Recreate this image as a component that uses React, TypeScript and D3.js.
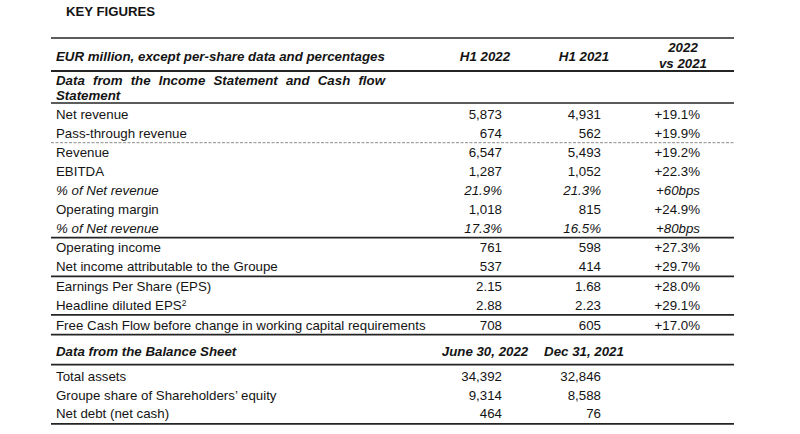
import React, { useRef, useEffect } from "react";
import * as d3 from "d3";

const title = "KEY FIGURES";
const headerLabel = "EUR million, except per-share data and percentages";
const periodHeaders = ["H1 2022", "H1 2021"];
const changeHeader = ["2022", "vs 2021"];
const section1Title = ["Data from the Income Statement and Cash flow", "Statement"];
const incomeLabels = [
  "Net revenue",
  "Pass-through revenue",
  "Revenue",
  "EBITDA",
  "% of Net revenue",
  "Operating margin",
  "% of Net revenue",
  "Operating income",
  "Net income attributable to the Groupe",
  "Earnings Per Share (EPS)",
  "Headline diluted EPS",
  "Free Cash Flow before change in working capital requirements",
];
const incomeH1_2022 = ["5,873", "674", "6,547", "1,287", "21.9%", "1,018", "17.3%", "761", "537", "2.15", "2.88", "708"];
const incomeH1_2021 = ["4,931", "562", "5,493", "1,052", "21.3%", "815", "16.5%", "598", "414", "1.68", "2.23", "605"];
const incomeChange = ["+19.1%", "+19.9%", "+19.2%", "+22.3%", "+60bps", "+24.9%", "+80bps", "+27.3%", "+29.7%", "+28.0%", "+29.1%", "+17.0%"];
const italicRows = [4, 6];
// rule drawn below the row with this index
const separatorsAfter: Record<number, string> = { 1: "dash", 6: "solid", 8: "solid", 10: "solid" };
const footnotes: Record<number, string> = { 10: "2" };

const section2Title = "Data from the Balance Sheet";
const balanceHeaders = ["June 30, 2022", "Dec 31, 2021"];
const balanceLabels = ["Total assets", "Groupe share of Shareholders\u2019 equity", "Net debt (net cash)"];
const balanceJune2022 = ["34,392", "9,314", "464"];
const balanceDec2021 = ["32,846", "8,588", "76"];

export default function App() {
  const ref = useRef<SVGSVGElement>(null);

  useEffect(() => {
    const svg = d3.select(ref.current);
    svg.selectAll("*").remove();

    const width = 800;
    const height = 434;
    const font = "'Liberation Sans', Arial, sans-serif";
    const ink = "#141414";
    const rule = "#242424";
    const left = 51;
    const right = 734;
    const textX = 56;
    const fs = 13.3;

    svg.attr("width", width).attr("height", height).attr("viewBox", [0, 0, width, height]);
    svg.append("rect").attr("width", width).attr("height", height).attr("fill", "#fff");

    const g = svg.append("g").attr("font-family", font).attr("fill", ink).attr("font-size", fs);

    // numeric columns: right edge of values
    const col = d3.scalePoint<string>().domain(["a", "b", "c"]).range([502, 700]);
    const headerShift = -17;

    const hline = (y: number, w = 1.7, dashed = false) =>
      g
        .append("line")
        .attr("x1", left)
        .attr("x2", right)
        .attr("y1", y)
        .attr("y2", y)
        .attr("stroke", dashed ? "#8c8c8c" : rule)
        .attr("stroke-width", w)
        .attr("stroke-dasharray", dashed ? "3,1.5" : null);

    const text = (x: number, cy: number, s: string, anchor = "start", weight = "normal", style = "normal") =>
      g
        .append("text")
        .attr("x", x)
        .attr("y", cy)
        .attr("dy", "0.36em")
        .attr("text-anchor", anchor)
        .attr("font-weight", weight)
        .attr("font-style", style)
        .text(s);

    // title
    g.append("text")
      .attr("x", 66)
      .attr("y", 16)
      .attr("font-size", 13.2)
      .attr("font-weight", "bold")
      .text(title);

    // header
    hline(38, 1.6);
    text(textX, 56.5, headerLabel, "start", "bold", "italic");
    periodHeaders.forEach((h, i) => text(col(["a", "b"][i])! + headerShift, 56.5, h, "middle", "bold", "italic"));
    changeHeader.forEach((h, i) => text(col("c")! + headerShift, 47 + i * 16, h, "middle", "bold", "italic"));
    hline(71, 2);

    // justified section title (first line)
    const words = section1Title[0].split(" ");
    const wordNodes = words.map((w) => text(0, 80, w, "start", "bold", "italic"));
    const widths = wordNodes.map((n) => (n.node() as SVGTextElement).getComputedTextLength());
    const justifyWidth = 385 - textX;
    const gap = (justifyWidth - d3.sum(widths)) / (words.length - 1);
    let cx = textX;
    wordNodes.forEach((n, i) => {
      n.attr("x", cx);
      cx += widths[i] + gap;
    });
    text(textX, 95.5, section1Title[1], "start", "bold", "italic");
    hline(103, 1.6);

    // income statement rows
    const firstRow = 114;
    const rowStep = 18.8;
    const sepExtra = 1;
    const rowY: number[] = [];
    let y = firstRow;
    incomeLabels.forEach((_, i) => {
      rowY.push(y);
      y += rowStep + (separatorsAfter[i] ? sepExtra : 0);
    });

    incomeLabels.forEach((label, i) => {
      const style = italicRows.includes(i) ? "italic" : "normal";
      const t = text(textX, rowY[i], label, "start", "normal", style);
      if (footnotes[i]) {
        t.append("tspan").attr("font-size", 8.5).attr("dy", "-0.5em").text(footnotes[i]);
      }
      text(col("a")!, rowY[i], incomeH1_2022[i], "end", "normal", style);
      text(col("b")!, rowY[i], incomeH1_2021[i], "end", "normal", style);
      text(col("c")!, rowY[i], incomeChange[i], "end", "normal", style);
      const sep = separatorsAfter[i];
      if (sep && i < incomeLabels.length - 1) {
        const ly = (rowY[i] + rowY[i + 1]) / 2;
        if (sep === "dash") hline(ly, 1, true);
        else hline(ly, 1.7);
      }
    });
    const lastY = rowY[rowY.length - 1];
    hline(lastY + 9.8, 1.8);

    // balance sheet
    const s2 = lastY + 26.5;
    text(textX, s2, section2Title, "start", "bold", "italic");
    balanceHeaders.forEach((h, i) => text(col(["a", "b"][i])! + headerShift, s2, h, "middle", "bold", "italic"));
    hline(s2 + 13.3, 1.7);
    const bStep = 18.7;
    const bFirst = s2 + 25;
    balanceLabels.forEach((label, i) => {
      const by = bFirst + i * bStep;
      text(textX, by, label);
      text(col("a")!, by, balanceJune2022[i], "end");
      text(col("b")!, by, balanceDec2021[i], "end");
    });
    hline(bFirst + 2 * bStep + 10.2, 1.7);
  }, []);

  return (
    <div style={{ position: "absolute", left: 0, top: 0 }}>
      <svg ref={ref} style={{ display: "block" }} />
    </div>
  );
}
